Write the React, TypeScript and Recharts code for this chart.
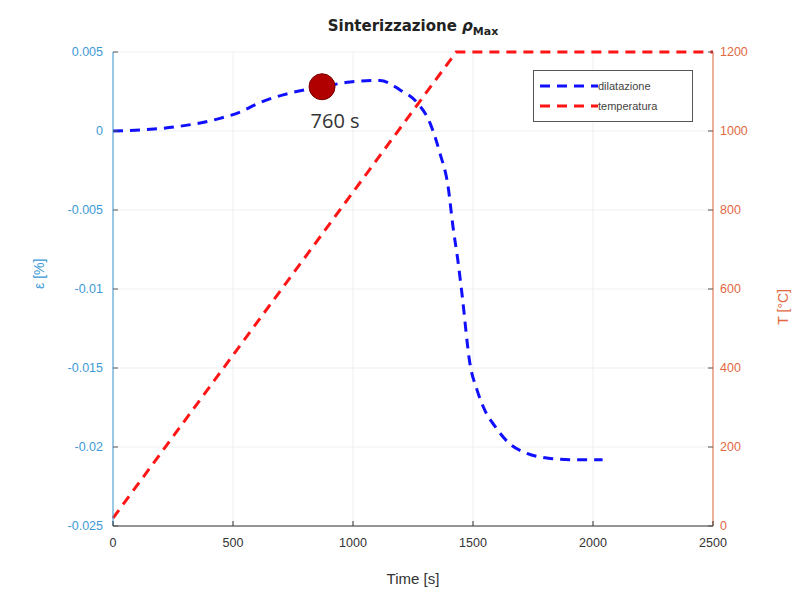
import React from 'react';
import { ComposedChart, Line, XAxis, YAxis, CartesianGrid, ReferenceDot } from 'recharts';

const dilTime = [0, 112, 279, 446, 529, 612, 737, 871, 988, 1112, 1196, 1267, 1321, 1362, 1396, 1417, 1437, 1454, 1487, 1517, 1550, 1592, 1646, 1725, 1808, 1904, 2040];
const dilValue = [0, 0.00006, 0.0003, 0.0008, 0.0012, 0.0018, 0.0024, 0.0028, 0.0031, 0.0032, 0.0026, 0.0018, 0.0005, -0.0014, -0.0035, -0.0061, -0.0082, -0.0103, -0.0147, -0.0164, -0.0177, -0.0187, -0.0197, -0.0204, -0.0207, -0.0208, -0.0208];

const tempTime = [0, 1430, 2500];
const tempValue = [20, 1200, 1200];

const xTicks = [0, 500, 1000, 1500, 2000, 2500];
const leftTicks = [0.005, 0, -0.005, -0.01, -0.015, -0.02, -0.025];
const rightTicks = [0, 200, 400, 600, 800, 1000, 1200];

const markerTime = 871;
const markerValue = 0.0028;
const markerLabel = '760 s';

const legendItems = [
  { name: 'dilatazione', color: '#1010ff' },
  { name: 'temperatura', color: '#ff1515' },
];

const dilData = dilTime.map((t, i) => ({ t, v: dilValue[i] }));
const tempData = tempTime.map((t, i) => ({ t, T: tempValue[i] }));

const BLUE_AX = '#3d9ad6';
const ORANGE_AX = '#e2693f';
const FONT = 'Liberation Sans, Arial, sans-serif';

const LeftTick = (props: any) => {
  const { x, y, payload } = props;
  return (
    <g>
      <line x1={x + 10} x2={x + 15} y1={y} y2={y} stroke="#555" />
      <text x={x} y={y} dy={4} textAnchor="end" fill={BLUE_AX} fontSize={12.5} fontFamily={FONT}>
        {String(payload.value)}
      </text>
    </g>
  );
};

const RightTick = (props: any) => {
  const { x, y, payload } = props;
  return (
    <g>
      <line x1={x - 7} x2={x - 12} y1={y} y2={y} stroke="#555" />
      <text x={x} y={y} dy={4} textAnchor="start" fill={ORANGE_AX} fontSize={12.5} fontFamily={FONT}>
        {String(payload.value)}
      </text>
    </g>
  );
};

const BottomTick = (props: any) => {
  const { x, y, payload } = props;
  return (
    <g>
      <line x1={x} x2={x} y1={y - 9} y2={y - 14} stroke="#333" />
      <text x={x} y={y} dy={12} textAnchor="middle" fill="#333" fontSize={12.5} fontFamily={FONT}>
        {String(payload.value)}
      </text>
    </g>
  );
};

const MarkerLabel = (props: any) => {
  const { viewBox } = props;
  const cx = viewBox.x + viewBox.width / 2;
  const cy = viewBox.y + viewBox.height / 2;
  return (
    <text x={cx + 13} y={cy + 41} textAnchor="middle" fill="#333" fontSize={20} fontFamily="Open Sans, sans-serif">
      {markerLabel}
    </text>
  );
};

export default function App() {
  return (
    <div style={{ position: 'absolute', left: 0, top: 0, width: 805, height: 593, background: '#fff' }}>
      <div style={{ position: 'absolute', left: 0, width: 826, top: 17, textAlign: 'center', fontFamily: 'DejaVu Sans, sans-serif', fontWeight: 'bold', fontSize: 15, color: '#222' }}>
        Sinterizzazione <i>ρ</i><sub style={{ fontSize: 11 }}>Max</sub>
      </div>
      <ComposedChart width={805} height={593} margin={{ top: 52, right: 32, bottom: 37, left: 53 }}>
        <CartesianGrid yAxisId="left" stroke="#efefef" />
        <XAxis
          type="number"
          dataKey="t"
          domain={[0, 2500]}
          ticks={xTicks}
          height={30}
          stroke="#333"
          tickLine={false}
          tickSize={0}
          tickMargin={9}
          tick={<BottomTick />}
          label={{ value: 'Time [s]', position: 'insideBottom', offset: -28, fill: '#333', fontSize: 15, fontFamily: FONT }}
          allowDuplicatedCategory={false}
        />
        <YAxis
          yAxisId="left"
          domain={[-0.025, 0.005]}
          ticks={leftTicks}
          width={60}
          stroke={BLUE_AX}
          tickLine={false}
          tickSize={0}
          tickMargin={10}
          tick={<LeftTick />}
          label={{ value: 'ε [%]', angle: -90, position: 'insideLeft', offset: -14, fill: BLUE_AX, fontSize: 14, fontFamily: FONT }}
        />
        <YAxis
          yAxisId="right"
          orientation="right"
          domain={[0, 1200]}
          ticks={rightTicks}
          width={60}
          stroke={ORANGE_AX}
          tickLine={false}
          tickSize={0}
          tickMargin={7}
          tick={<RightTick />}
          label={{ value: 'T [°C]', angle: -90, position: 'insideRight', offset: -10, fill: ORANGE_AX, fontSize: 14, fontFamily: FONT }}
        />
        <Line
          yAxisId="left"
          data={dilData}
          dataKey="v"
          name="dilatazione"
          type="monotone"
          stroke="#1010ff"
          strokeWidth={3}
          strokeDasharray="10 7"
          dot={false}
          isAnimationActive={false}
        />
        <Line
          yAxisId="right"
          data={tempData}
          dataKey="T"
          name="temperatura"
          type="linear"
          stroke="#ff1515"
          strokeWidth={3}
          strokeDasharray="10 7"
          dot={false}
          isAnimationActive={false}
        />
        <ReferenceDot
          yAxisId="left"
          x={markerTime}
          y={markerValue}
          r={13}
          fill="#b00000"
          stroke="#7a0000"
          strokeWidth={1}
          label={<MarkerLabel />}
        />
      </ComposedChart>
      <div style={{ position: 'absolute', top: 70, left: 533, border: '1.5px solid #555', background: '#fff', padding: '5px 6px', width: 146, fontFamily: FONT, fontSize: 11, color: '#444' }}>
        {legendItems.map((it) => (
          <div key={it.name} style={{ display: 'flex', alignItems: 'center', height: 20 }}>
            <svg width={58} height={6}>
              <line x1={0} x2={58} y1={3} y2={3} stroke={it.color} strokeWidth={3} strokeDasharray="10 7" />
            </svg>
            <span>{it.name}</span>
          </div>
        ))}
      </div>
    </div>
  );
}
